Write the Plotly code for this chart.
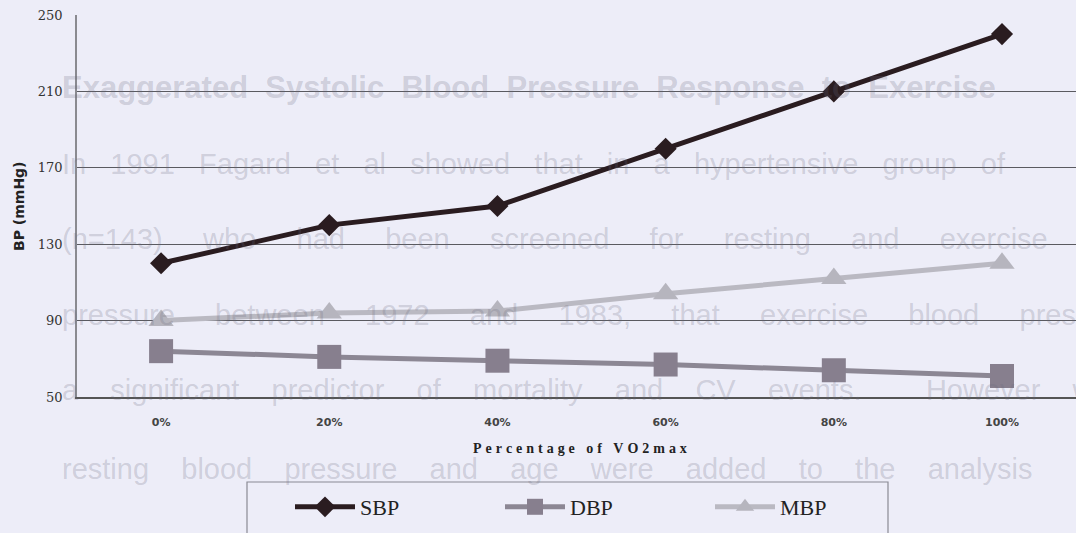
import plotly.graph_objects as go

# data
categories = ["0%", "20%", "40%", "60%", "80%", "100%"]
sbp = [120, 140, 150, 180, 210, 240]
dbp = [74, 71, 69, 67, 64, 61]
mbp = [90, 94, 95, 104, 112, 120]

y_ticks = [50, 90, 130, 170, 210, 250]

# faint text of the scanned page behind the chart
page_lines = [
    "Exaggerated Systolic Blood Pressure Response to Exercise",
    "In 1991 Fagard et al showed that in a hypertensive group of",
    "(n=143) who had been screened for resting and exercise blood",
    "pressure between 1972 and 1983, that exercise blood pressure was",
    "a significant predictor of mortality and CV events.  However when",
    "resting blood pressure and age were added to the analysis",
]
# spaces between words on each line (the page text is justified)
page_gaps = [2, 3, 5, 5, 4, 4]

W, H = 1076, 533
L, R, T, B = 77, 0, 15, 136
BG = "#ededf8"


def px(x):
    return (x - L) / (W - L - R)


def py(y):
    return (H - B - y) / (H - T - B)


fig = go.Figure()

fig.add_trace(go.Scatter(
    x=categories, y=sbp, name="SBP", mode="lines+markers",
    line=dict(color="#2a1c20", width=5),
    marker=dict(symbol="diamond", size=17, color="#2a1c20")))
fig.add_trace(go.Scatter(
    x=categories, y=dbp, name="DBP", mode="lines+markers",
    line=dict(color="#8c8794", width=5),
    marker=dict(symbol="square", size=24, color="#877f8e")))
fig.add_trace(go.Scatter(
    x=categories, y=mbp, name="MBP", mode="lines+markers",
    line=dict(color="#bab9c2", width=5),
    marker=dict(symbol="triangle-up", size=22, color="#b6b5be")))

annotations = []
for i, txt in enumerate(page_lines):
    gap = "\u00a0" * page_gaps[i]
    text = gap.join(txt.split(" "))
    if i == 0:
        text = "<b>" + text + "</b>"
    annotations.append(dict(
        xref="paper", yref="paper", x=px(60), y=py(88 + i * 75.5 + (3 if i == 5 else 0)),
        xanchor="left", yanchor="middle", showarrow=False, text=text,
        font=dict(family="Liberation Sans, Arial", size=31 if i == 0 else 29,
                  color="rgba(105,105,125,0.24)")))

annotations.append(dict(
    xref="paper", yref="paper", x=px(19), y=0.5, textangle=-90,
    xanchor="center", yanchor="middle", showarrow=False,
    text="<b>BP (mmHg)</b>",
    font=dict(family="DejaVu Sans", size=14, color="#222")))
annotations.append(dict(
    xref="paper", yref="paper", x=px(580), y=py(448),
    xanchor="center", yanchor="middle", showarrow=False,
    text="<b>" + "\u2009\u200a".join("Percentage of VO2max".replace(" ", "\u00a0")) + "</b>",
    font=dict(family="Liberation Serif", size=14, color="#222")))

fig.update_layout(
    width=W, height=H,
    margin=dict(l=L, r=R, t=T, b=B, autoexpand=False),
    paper_bgcolor=BG, plot_bgcolor=BG,
    showlegend=True,
    legend=dict(
        orientation="h", x=px(290), y=py(486), xanchor="left", yanchor="top",
        bgcolor="rgba(0,0,0,0)", borderwidth=0,
        entrywidth=135, entrywidthmode="pixels", itemwidth=60,
        font=dict(family="Liberation Serif", size=22, color="#222")),
    annotations=annotations,
    shapes=[dict(type="rect", xref="paper", yref="paper",
                 x0=px(247), x1=px(888), y0=py(540), y1=py(482),
                 line=dict(color="#8a8a94", width=1.2))],
)

fig.update_xaxes(
    type="category", range=[-0.5, 5.44],
    showgrid=False, showline=True, linecolor="#555", linewidth=1.5,
    ticks="", ticklabelstandoff=14,
    tickfont=dict(family="DejaVu Sans", size=11, color="#444", weight="bold"))
fig.update_yaxes(
    range=[50, 250], tickvals=y_ticks,
    showgrid=True, gridcolor="#5a5a60", gridwidth=1,
    showline=True, linecolor="#8a8a90", linewidth=1.5,
    zeroline=False, ticks="", ticklabelstandoff=10,
    tickfont=dict(family="DejaVu Serif", size=13, color="#333"))

fig.write_html("out.html", config={"displayModeBar": False},
               post_script="document.body.style.margin='0';")
